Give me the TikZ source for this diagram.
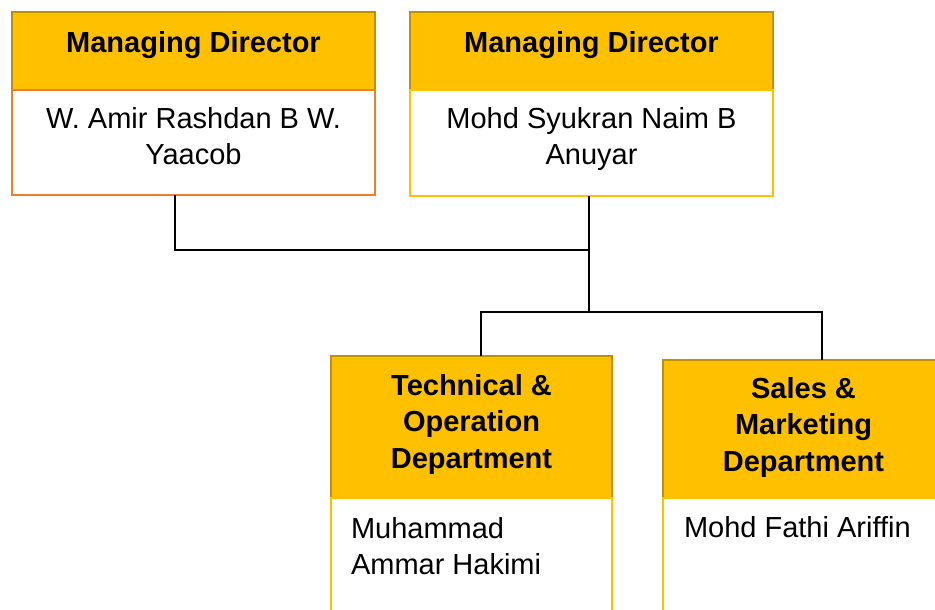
\documentclass[tikz,border=0pt]{standalone}
\usepackage{fontspec}
\setmainfont{Liberation Sans}
\usetikzlibrary{positioning}

\definecolor{gold}{HTML}{FFC000}
\definecolor{darkgold}{HTML}{BF9000}
\definecolor{orng}{HTML}{ED7D31}

\begin{document}
\begin{tikzpicture}[
    x=1pt,y=-1pt,
    every node/.append style={inner sep=0pt,outer sep=0pt},
    head/.style={draw=darkgold,fill=gold,line width=1.5pt,anchor=north west},
    body/.style={draw=gold,fill=white,line width=1.5pt,anchor=north},
    htext/.style={font=\fontsize{29pt}{36.5pt}\selectfont\bfseries,align=center,anchor=north},
    btext/.style={font=\fontsize{29pt}{36.5pt}\selectfont,align=center,anchor=north},
    link/.style={line width=1.3pt,black}
]
    \useasboundingbox (0,0) rectangle (935,610);
    % top row
    \node (hA) [head,minimum width=363pt,minimum height=78pt] at (12,12) {};
    \node (bA) [body,draw=orng,minimum width=363pt,minimum height=105pt] at (hA.south) {};
    \node (hB) [head,minimum width=363pt,minimum height=78pt] at (410,12) {};
    \node (bB) [body,minimum width=363pt,minimum height=106pt] at (hB.south) {};
    % departments
    \node (hC) [head,minimum width=281pt,minimum height=142pt] at (331,356) {};
    \node (bC) [body,minimum width=281pt,minimum height=130pt] at (hC.south) {};
    \node (hD) [head,minimum width=281pt,minimum height=138pt] at (663,360) {};
    \node (bD) [body,minimum width=281pt,minimum height=130pt] at (hD.south) {};
    % texts
    \node (tA) [htext] at (hA.north |- 0,31) {Managing Director};
    \node (nA) [btext] at (bA.north |- 0,107) {W. Amir Rashdan B W.\\Yaacob};
    \node (tB) [htext] at (hB.north |- 0,31) {Managing Director};
    \node (nB) [btext] at (bB.north |- 0,107) {Mohd Syukran Naim B\\Anuyar};
    \node (tC) [htext] at (hC.north |- 0,374) {Technical \&\\Operation\\Department};
    \node (nC) [btext,align=left,anchor=north west] at (351,517) {Muhammad\\Ammar Hakimi};
    \node (tD) [htext] at (hD.north |- 0,377) {Sales \&\\Marketing\\Department};
    \node (nD) [btext,align=left,anchor=north west] at (684,516) {Mohd Fathi Ariffin};
    % connectors
    \coordinate (jTop) at (589,250);
    \coordinate (jMid) at (589,312);
    \draw[link] ([xshift=-18.5pt]bA.south) |- (jTop);
    \draw[link] ([xshift=-2.5pt]bB.south) -- (jMid);
    \draw[link] ([xshift=9.5pt]hC.north) |- (jMid) -| ([xshift=18.5pt]hD.north);
\end{tikzpicture}
\end{document}
